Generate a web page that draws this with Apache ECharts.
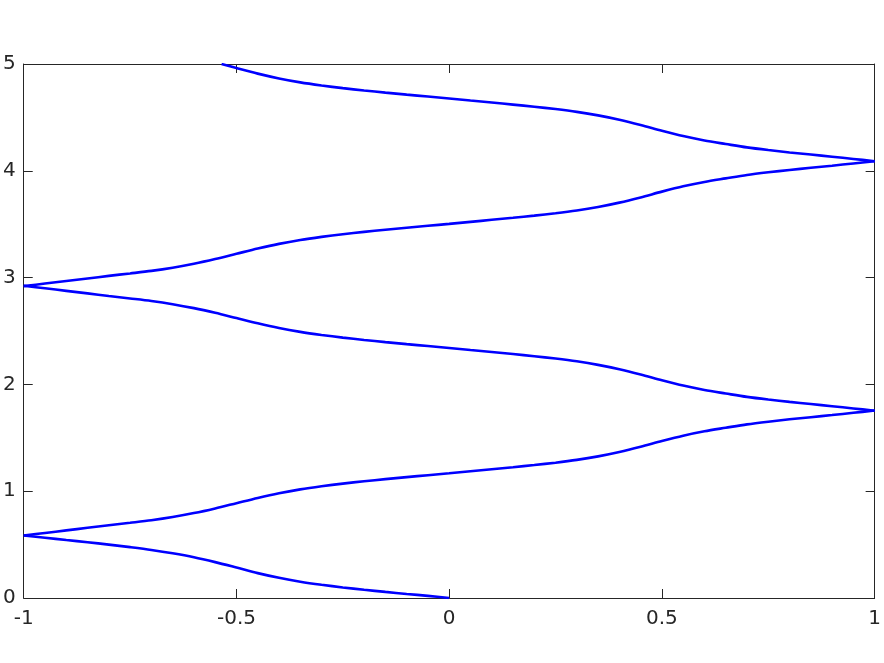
<!DOCTYPE html>
<html>
<head>
<meta charset="utf-8">
<script src="https://cdn.jsdelivr.net/npm/echarts@6/dist/echarts.min.js"></script>
<style>html,body{margin:0;padding:0;background:#fff}#c{width:884px;height:663px}</style>
</head>
<body>
<div id="c"></div>
<script>
// horizontal sample positions, left to right
var xs = [-1, -0.95, -0.9, -0.85, -0.8, -0.75, -0.7, -0.65, -0.6, -0.55, -0.5, -0.45, -0.4, -0.35, -0.3, -0.25, -0.2, -0.15, -0.1, -0.05, 0,
          0.05, 0.1, 0.15, 0.2, 0.25, 0.3, 0.35, 0.4, 0.45, 0.5, 0.55, 0.6, 0.65, 0.7, 0.75, 0.8, 0.85, 0.9, 0.95, 1];
// band 1 (x from -1 to 0)
var y1 = [0.585, 0.564, 0.543, 0.522, 0.500, 0.476, 0.450, 0.419, 0.382, 0.336, 0.285, 0.233, 0.189, 0.153, 0.124, 0.099, 0.077, 0.057, 0.038, 0.020, 0.000];
// band 2 (x from -1 to 1)
var y2 = [0.585, 0.609, 0.633, 0.657, 0.681, 0.704, 0.728, 0.758, 0.795, 0.839, 0.888, 0.937, 0.981, 1.017, 1.046, 1.071, 1.093, 1.113, 1.132, 1.150, 1.168,
          1.187, 1.206, 1.225, 1.245, 1.267, 1.293, 1.326, 1.367, 1.416, 1.470, 1.520, 1.561, 1.594, 1.626, 1.651, 1.673, 1.693, 1.713, 1.734, 1.755];
// band 3 (x from -1 to 1)
var y3 = [2.924, 2.900, 2.876, 2.852, 2.828, 2.805, 2.781, 2.751, 2.714, 2.670, 2.621, 2.572, 2.528, 2.492, 2.463, 2.438, 2.416, 2.396, 2.377, 2.359, 2.341,
          2.322, 2.303, 2.284, 2.264, 2.242, 2.216, 2.183, 2.142, 2.093, 2.039, 1.989, 1.948, 1.915, 1.883, 1.858, 1.836, 1.816, 1.796, 1.775, 1.754];
// band 4 (x from -1 to 1)
var y4 = [2.920, 2.944, 2.968, 2.992, 3.016, 3.039, 3.063, 3.093, 3.130, 3.174, 3.223, 3.272, 3.316, 3.352, 3.381, 3.406, 3.428, 3.448, 3.467, 3.485, 3.503,
          3.522, 3.541, 3.560, 3.580, 3.602, 3.628, 3.661, 3.702, 3.751, 3.805, 3.855, 3.896, 3.929, 3.961, 3.986, 4.008, 4.028, 4.048, 4.069, 4.090];
// band 5: starts where it leaves the top of the plot, then uses xs from -0.5 on
var x5 = [-0.535].concat(xs.slice(10));
var y5 = [5.000, 4.962, 4.910, 4.865, 4.828, 4.799, 4.774, 4.752, 4.732, 4.713, 4.695, 4.677,
          4.658, 4.639, 4.620, 4.600, 4.578, 4.552, 4.519, 4.478, 4.429, 4.375, 4.325, 4.284, 4.251, 4.219, 4.194, 4.172, 4.152, 4.132, 4.111, 4.090];
var xTicks = [-1, -0.5, 0, 0.5, 1];
var yTicks = [0, 1, 2, 3, 4, 5];

function zip(xv, yv) { return yv.map(function (y, i) { return [xv[i], y]; }); }
var bands = [
  zip(xs.slice(0, 21), y1),
  zip(xs, y2),
  zip(xs, y3),
  zip(xs, y4),
  zip(x5, y5)
];

var axisColor = '#262626';
var font = 'DejaVu Sans';
var lineStyle = { color: axisColor, width: 1 };

function xAx(pos, labels) {
  return {
    type: 'value', min: xTicks[0], max: xTicks[xTicks.length - 1], interval: 0.5,
    position: pos,
    axisLine: { show: true, onZero: false, lineStyle: lineStyle },
    axisTick: { show: true, inside: true, length: 9, lineStyle: lineStyle },
    axisLabel: { show: labels, color: axisColor, fontFamily: font, fontSize: 20, margin: 11,
      formatter: function (v) { return String(v); } },
    splitLine: { show: false }
  };
}
function yAx(pos, labels) {
  return {
    type: 'value', min: yTicks[0], max: yTicks[yTicks.length - 1], interval: 1,
    position: pos,
    axisLine: { show: true, onZero: false, lineStyle: lineStyle },
    axisTick: { show: true, inside: true, length: 9, lineStyle: lineStyle },
    axisLabel: { show: labels, color: axisColor, fontFamily: font, fontSize: 20, margin: 8 },
    splitLine: { show: false }
  };
}

var chart = echarts.init(document.getElementById('c'), null, { renderer: 'canvas' });
chart.setOption({
  animation: false,
  backgroundColor: '#ffffff',
  grid: { left: 22, right: 8, top: 64, bottom: 65, containLabel: false },
  xAxis: [xAx('bottom', true), xAx('top', false)],
  yAxis: [yAx('left', true), yAx('right', false)],
  series: bands.map(function (b) {
    return {
      type: 'line',
      data: b,
      xAxisIndex: 0, yAxisIndex: 0,
      showSymbol: false,
      symbol: 'none',
      smooth: 0.3,
      clip: true,
      lineStyle: { color: '#0000ff', width: 2.6 }
    };
  })
});
</script>
</body>
</html>
